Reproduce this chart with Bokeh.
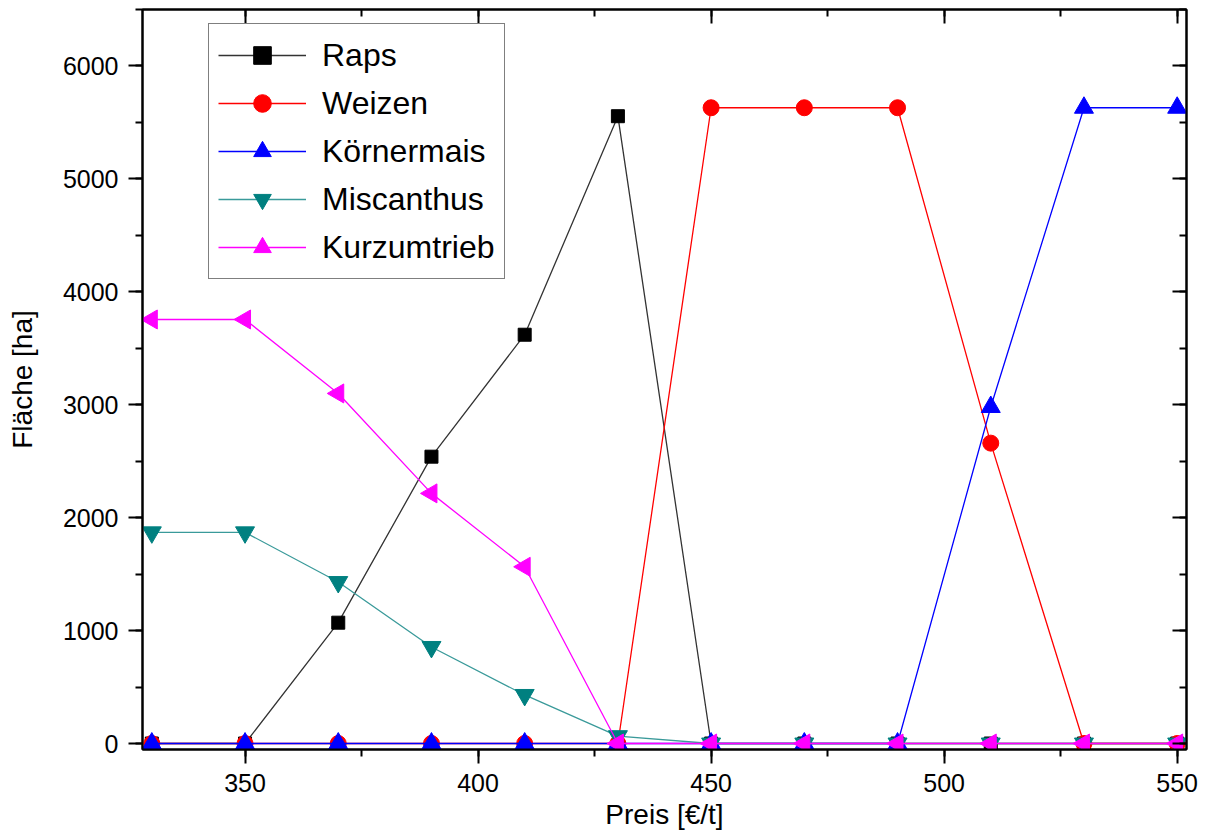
import math
from bokeh.plotting import figure
from bokeh.models import (Range1d, LinearAxis, SingleIntervalTicker, Legend,
                          LegendItem, CustomJSTickFormatter)
from bokeh.embed import file_html
from bokeh.resources import INLINE

preis = [330, 350, 370, 390, 410, 430, 450, 470, 490, 510, 530, 550]
raps = [0, 0, 1070, 2540, 3620, 5555, 0, 0, 0, 0, 0, 0]
weizen = [0, 0, 0, 0, 0, 0, 5630, 5630, 5630, 2660, 0, 0]
koernermais = [0, 0, 0, 0, 0, 0, 0, 0, 0, 2980, 5630, 5630]
miscanthus = [1870, 1870, 1430, 855, 430, 65, 0, 0, 0, 0, 0, 0]
kurzumtrieb = [3755, 3755, 3100, 2215, 1565, 0, 0, 0, 0, 0, 0, 0]

series_names = ["Raps", "Weizen", "Körnermais", "Miscanthus", "Kurzumtrieb"]
FONT = "Liberation Sans"

p = figure(width=1210, height=834, output_backend="svg", toolbar_location=None,
           x_range=Range1d(328, 552), y_range=Range1d(-53, 6500),
           min_border_left=142, min_border_right=24, min_border_top=9,
           min_border_bottom=85, background_fill_color="white",
           border_fill_color="white")
p.grid.visible = False
p.outline_line_color = "black"
p.outline_line_width = 2

p.xaxis.ticker = SingleIntervalTicker(interval=50, num_minor_ticks=2)
p.yaxis.ticker = SingleIntervalTicker(interval=1000, num_minor_ticks=2)

def style_axis(ax):
    ax.axis_line_color = "black"
    ax.axis_line_width = 2
    ax.major_tick_line_color = "black"
    ax.major_tick_line_width = 2
    ax.minor_tick_line_color = "black"
    ax.minor_tick_line_width = 2
    ax.major_label_text_font = FONT
    ax.major_label_text_font_size = "25px"
    ax.major_label_text_color = "black"
    ax.axis_label_text_font = FONT
    ax.axis_label_text_font_size = "28px"
    ax.axis_label_text_font_style = "normal"
    ax.axis_label_text_color = "black"

for ax in [p.xaxis[0], p.yaxis[0]]:
    style_axis(ax)
    ax.major_tick_out = 14
    ax.major_tick_in = 0
    ax.minor_tick_out = 7
    ax.minor_tick_in = 0
    ax.major_label_standoff = 10

p.xaxis.axis_label = "Preis [€/t]"
p.yaxis.axis_label = "Fläche [ha]"
p.xaxis.axis_label_standoff = 4
p.yaxis.axis_label_standoff = 22

blank = CustomJSTickFormatter(code="return ''")
top = LinearAxis(ticker=SingleIntervalTicker(interval=50, num_minor_ticks=2), formatter=blank)
right = LinearAxis(ticker=SingleIntervalTicker(interval=1000, num_minor_ticks=2), formatter=blank)
for ax in [top, right]:
    style_axis(ax)
    ax.major_tick_out = 0
    ax.major_tick_in = 14
    ax.minor_tick_out = 0
    ax.minor_tick_in = 7
    ax.major_label_standoff = 0
p.add_layout(top, "above")
p.add_layout(right, "right")

specs = [
    (raps, "black", "#333333", "square", 13, 0.0),
    (weizen, "red", "red", "circle", 16, 0.0),
    (koernermais, "blue", "blue", "triangle", 19, 0.0),
    (miscanthus, "#008080", "#3a9a9a", "inverted_triangle", 19, 0.0),
    (kurzumtrieb, "magenta", "magenta", "triangle", 19, math.pi / 2),
]

items = []
for name, (vals, mcol, lcol, marker, size, ang) in zip(series_names, specs):
    ln = p.line(preis, vals, line_color=lcol, line_width=1.3)
    sc = p.scatter(preis, vals, marker=marker, size=size, angle=ang,
                   fill_color=mcol, line_color=mcol)
    items.append(LegendItem(label=name, renderers=[ln, sc]))

legend = Legend(items=items, location=(66, 470))
legend.label_text_font = FONT
legend.label_text_font_size = "32px"
legend.label_text_color = "black"
legend.glyph_width = 88
legend.glyph_height = 44
legend.label_height = 44
legend.spacing = 4
legend.padding = 9
legend.margin = 0
legend.label_standoff = 16
legend.border_line_color = "black"
legend.border_line_width = 1.5
legend.background_fill_color = "white"
legend.background_fill_alpha = 1
p.add_layout(legend)

open("out.html", "w").write(file_html(p, INLINE))
